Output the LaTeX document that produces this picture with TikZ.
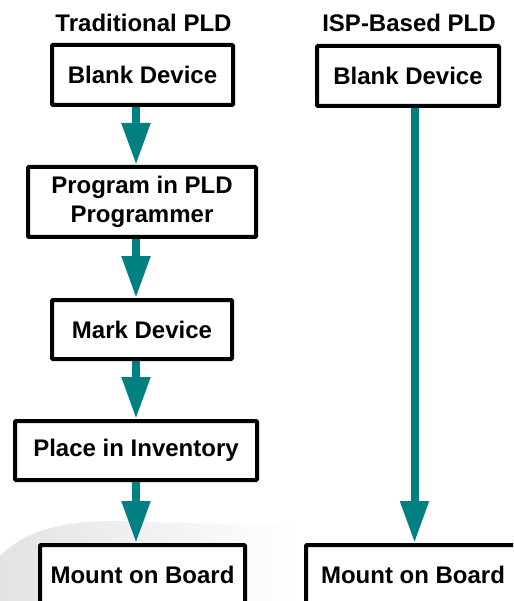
\documentclass[tikz,border=0pt]{standalone}
\usepackage{fontspec}
\setmainfont{Liberation Sans}
\usetikzlibrary{arrows.meta}
\definecolor{flowteal}{RGB}{0,128,128}
\begin{document}
\begin{tikzpicture}[x=1pt,y=-1pt,
  every node/.style={font=\fontsize{24}{29}\selectfont\bfseries},
  stepbox/.style={draw=black,line width=4pt,fill=white,align=center,
    inner sep=0pt,rounded corners=1pt},
  title/.style={anchor=base,inner sep=0pt},
  flow/.style={draw=flowteal,line width=8pt,
    -{Triangle[width=27pt,length=42pt]},fill=flowteal}]
\useasboundingbox (0,0) rectangle (513,601);
\clip (0,0) rectangle (513,601);

% faint backdrop behind the lower boxes
\shade[left color=black!11,right color=white]
  (0,601) -- (0,556) .. controls (25,532) and (55,522) .. (110,521)
  -- (300,526) -- (300,601) -- cycle;

% column headings
\node[title] (tt) at (143.5,32) {Traditional PLD};
\node[title] (ti) at (409,32) {ISP-Based PLD};

% traditional flow
\node[stepbox,minimum width=181pt,minimum height=60pt] (b1) at (142.5,75) {Blank Device};
\node[stepbox,minimum width=228pt,minimum height=70pt] (b2) at (142,202) {Program in PLD\\Programmer};
\node[stepbox,minimum width=180pt,minimum height=59pt] (b3) at (142,329.5) {Mark Device};
\node[stepbox,minimum width=242pt,minimum height=59pt] (b4) at (136,450.5) {Place in Inventory};
\node[stepbox,minimum width=205pt,minimum height=60pt,anchor=north] (b5) at (142.5,543) {Mount on Board};

% ISP flow
\node[stepbox,minimum width=182pt,minimum height=60pt] (r1) at (408,76) {Blank Device};
\node[stepbox,minimum width=214pt,minimum height=60pt,anchor=north] (r5) at (413,543) {Mount on Board};

% arrow columns
\coordinate (lx) at (136,0);
\coordinate (rx) at (414.5,0);

\draw[flow] (b1.south -| lx) -- (b2.north -| lx);
\draw[flow] (b2.south -| lx) -- (b3.north -| lx);
\draw[flow] (b3.south -| lx) -- (b4.north -| lx);
\draw[flow] (b4.south -| lx) -- (b5.north -| lx);
\draw[flow] (r1.south -| rx) -- (r5.north -| rx);
\end{tikzpicture}
\end{document}
